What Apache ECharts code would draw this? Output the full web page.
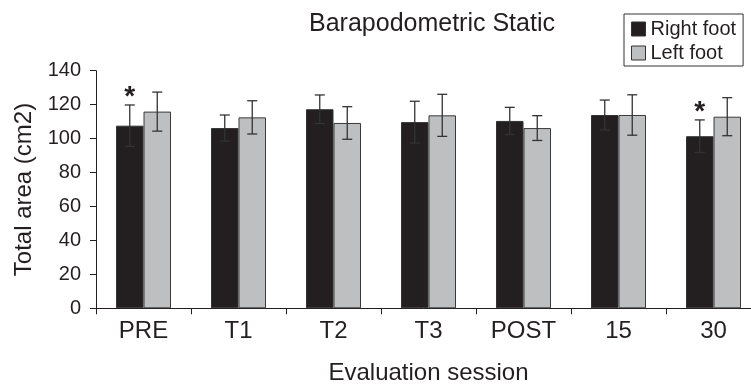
<!DOCTYPE html>
<html>
<head>
<meta charset="utf-8">
<script src="https://cdn.jsdelivr.net/npm/echarts@6/dist/echarts.min.js"></script>
<style>
  html, body { margin: 0; padding: 0; background: #ffffff; }
  #chart { width: 751px; height: 384px; }
</style>
</head>
<body>
<div id="chart"></div>
<script>
// Evaluation sessions on the x axis
const sessions = ['PRE', 'T1', 'T2', 'T3', 'POST', '15', '30'];

// Mean total area (cm2) and standard deviation per foot
const rightMean = [107.6, 106.2, 117.3, 109.7, 110.4, 113.9, 101.4];
const rightSD   = [12.2, 7.7, 8.4, 12.3, 8.0, 8.8, 9.6];
const leftMean  = [115.9, 112.5, 109.2, 113.7, 106.2, 113.9, 112.9];
const leftSD    = [11.5, 9.8, 9.6, 12.4, 7.3, 11.9, 11.2];

// Significant difference flags (asterisk above the right-foot bar)
const rightSig = [1, 0, 0, 0, 0, 0, 1];

const yTicks = { min: 0, max: 140, step: 20 };

const FONT = 'Liberation Sans, Arial, Helvetica, sans-serif';
const INK = '#231f20';
const BAR_W = 27.5;

function errorData(mean, sd, sig) {
  return mean.map((m, i) => [i, m - sd[i], m + sd[i], sig ? sig[i] : 0]);
}

function errorRenderer(side) {
  return function (params, api) {
    const i = api.value(0);
    const lo = api.coord([i, api.value(1)]);
    const hi = api.coord([i, api.value(2)]);
    const x = lo[0] + side * BAR_W / 2;
    const cap = 5;
    const style = { stroke: '#333333', lineWidth: 1.3 };
    const children = [
      { type: 'line', shape: { x1: x, y1: lo[1], x2: x, y2: hi[1] }, style: style },
      { type: 'line', shape: { x1: x - cap, y1: hi[1], x2: x + cap, y2: hi[1] }, style: style },
      { type: 'line', shape: { x1: x - cap, y1: lo[1], x2: x + cap, y2: lo[1] }, style: style }
    ];
    if (api.value(3)) {
      children.push({
        type: 'text',
        style: {
          text: '*', x: x, y: hi[1] - 22,
          align: 'center', verticalAlign: 'top',
          font: 'bold 28px ' + FONT, fill: INK
        }
      });
    }
    return { type: 'group', children: children };
  };
}

const chart = echarts.init(document.getElementById('chart'), null, { renderer: 'canvas' });

chart.setOption({
  animation: false,
  backgroundColor: '#ffffff',
  title: {
    text: 'Barapodometric Static',
    left: 432,
    top: 12,
    textAlign: 'center',
    padding: 0,
    textStyle: { fontFamily: FONT, fontSize: 25, fontWeight: 'normal', color: INK }
  },
  legend: {
    data: ['Right foot', 'Left foot'],
    orient: 'vertical',
    left: 624,
    top: 14,
    padding: [5, 7, 3, 7],
    itemGap: 4,
    itemWidth: 14,
    itemHeight: 14,
    icon: 'rect',
    borderColor: '#333333',
    borderWidth: 1,
    itemStyle: { borderColor: '#333333', borderWidth: 1 },
    textStyle: { fontFamily: FONT, fontSize: 20, color: INK, lineHeight: 20 }
  },
  grid: { left: 96, right: -10, top: 70.7, bottom: 75.7, outerBoundsMode: 'none', containLabel: false },
  xAxis: {
    type: 'category',
    data: sessions,
    name: 'Evaluation session',
    nameLocation: 'middle',
    nameGap: 53,
    nameTextStyle: { fontFamily: FONT, fontSize: 24, color: INK },
    axisLine: { lineStyle: { color: INK, width: 1 } },
    axisTick: { show: true, length: 6, lineStyle: { color: INK } },
    axisLabel: { fontFamily: FONT, fontSize: 24, color: INK, margin: 11 }
  },
  yAxis: {
    type: 'value',
    min: yTicks.min,
    max: yTicks.max,
    interval: yTicks.step,
    name: 'Total area (cm2)',
    nameLocation: 'middle',
    nameGap: 60,
    nameTextStyle: { fontFamily: FONT, fontSize: 24, color: INK },
    axisLine: { show: true, lineStyle: { color: INK, width: 1 } },
    axisTick: { show: true, length: 6, lineStyle: { color: INK } },
    splitLine: { show: false },
    axisLabel: { fontFamily: FONT, fontSize: 20, color: INK, margin: 15 }
  },
  series: [
    {
      name: 'Right foot',
      type: 'bar',
      data: rightMean,
      barWidth: BAR_W,
      barGap: '0%',
      itemStyle: { color: INK, borderColor: '#333333', borderWidth: 1 }
    },
    {
      name: 'Left foot',
      type: 'bar',
      data: leftMean,
      barWidth: BAR_W,
      barGap: '0%',
      itemStyle: { color: '#bdbfc1', borderColor: '#3a3a3a', borderWidth: 1 }
    },
    {
      name: 'Right foot SD',
      type: 'custom',
      renderItem: errorRenderer(-1),
      data: errorData(rightMean, rightSD, rightSig),
      z: 5,
      silent: true
    },
    {
      name: 'Left foot SD',
      type: 'custom',
      renderItem: errorRenderer(1),
      data: errorData(leftMean, leftSD),
      z: 5,
      silent: true
    }
  ]
});
</script>
</body>
</html>
